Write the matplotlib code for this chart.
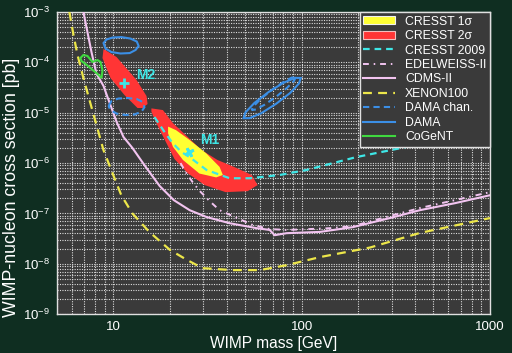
import numpy as np
import matplotlib
matplotlib.use('Agg')
import matplotlib.pyplot as plt
from matplotlib.lines import Line2D
from matplotlib.patches import Patch
from matplotlib.ticker import FuncFormatter, LogLocator, NullFormatter

plt.rcParams['font.family'] = ['Liberation Sans', 'DejaVu Sans']
plt.rcParams['mathtext.default'] = 'regular'

# WIMP mass [GeV] and cross section [pb]
x_ticks = [10, 100, 1000]
y_ticks = [1e-9, 1e-8, 1e-7, 1e-6, 1e-5, 1e-4, 1e-3]

# XENON100 limit
xenon_m = [5.83, 6.13, 6.44, 6.92, 7.45, 8.12, 8.85, 9.88, 11.0, 12.6, 15.5, 19.9,
           24.5, 29.7, 43.0, 59.8, 83.2, 125, 230, 424, 1000]
xenon_s = [1e-3, 3.5e-4, 1.4e-4, 4.9e-5, 1.8e-5, 5.7e-6, 1.8e-6, 6.3e-7, 2.3e-7, 1.0e-7,
           4.3e-8, 1.9e-8, 1.2e-8, 8.2e-9, 7.5e-9, 7.5e-9, 9.4e-9, 1.36e-8, 2.1e-8, 4.1e-8, 8.1e-8]

# CDMS-II limit
cdms_m = [6.92, 7.27, 7.64, 8.12, 8.42, 8.85, 9.29, 9.76, 10.4, 11.3, 12.6, 15.0, 17.6,
          20.9, 25.4, 31.2, 41.4, 57.6, 67.6, 71.8, 83.2, 125, 187, 294, 424, 652, 1000]
cdms_s = [1e-3, 4.0e-4, 1.6e-4, 5.9e-5, 4.7e-5, 3.4e-5, 2.05e-5, 1.24e-5, 6.5e-6, 3.3e-6,
          2.0e-6, 7.9e-7, 3.5e-7, 1.84e-7, 1.16e-7, 8.5e-8, 6.4e-8, 5.1e-8, 4.7e-8, 3.7e-8,
          4.06e-8, 4.3e-8, 5.35e-8, 8.1e-8, 1.16e-7, 1.6e-7, 2.3e-7]

# EDELWEISS-II limit
edw_m = [22.7, 24.2, 26.3, 28.7, 32.4, 36.6, 46.8, 54.9, 67.6, 83.2, 110, 141, 187,
         294, 424, 652, 1000]
edw_s = [1.0e-6, 6.6e-7, 4.2e-7, 2.8e-7, 1.76e-7, 1.16e-7, 7.7e-8, 5.9e-8, 4.9e-8,
         4.7e-8, 4.9e-8, 5.1e-8, 5.6e-8, 8.9e-8, 1.28e-7, 1.84e-7, 2.65e-7]

# CRESST 2009 limit
cresst09_m = [16.5, 18.7, 20.6, 23.0, 25.4, 31.2, 41.4, 52.9, 76.4, 106, 194, 357, 474, 783]
cresst09_s = [8.2e-6, 4.1e-6, 2.5e-6, 1.65e-6, 1.31e-6, 7.3e-7, 5.0e-7, 5.0e-7, 5.8e-7,
              7.3e-7, 1.31e-6, 2.08e-6, 2.86e-6, 4.95e-6]

# CRESST 2 sigma region, M1
m1_2s_m = [15.9, 18.3, 20.7, 24.8, 29.4, 35.7, 44.0, 54.2, 58.3, 51.6, 39.4, 30.5, 24.8,
           21.1, 19.1, 16.9, 15.9]
m1_2s_s = [1.22e-5, 1.13e-5, 6.2e-6, 3.28e-6, 1.81e-6, 1.15e-6, 8.3e-7, 5.8e-7, 3.66e-7,
           2.77e-7, 2.65e-7, 3.66e-7, 6.3e-7, 1.2e-6, 2.5e-6, 6.2e-6, 1.05e-5]

# CRESST 2 sigma region, M2
m2_2s_m = [8.85, 10.37, 13.26, 14.98, 15.17, 14.27, 13.42, 11.44, 9.64, 8.74]
m2_2s_s = [1.84e-4, 1.28e-4, 4.46e-5, 2.14e-5, 1.49e-5, 1.24e-5, 1.24e-5, 2.24e-5,
           4.89e-5, 1.22e-4]

# CRESST 1 sigma region, M1
m1_1s_m = [19.5, 21.5, 25.3, 31.1, 36.6, 38.1, 35.1, 28.6, 23.4, 20.7, 19.5]
m1_1s_s = [5.3e-6, 4.5e-6, 2.9e-6, 1.56e-6, 8.4e-7, 5.8e-7, 5.2e-7, 6.2e-7, 1.15e-6,
           2.1e-6, 3.9e-6]

# best fit points
best_m = [25.3, 11.4]
best_s = [1.68e-6, 3.9e-5]
best_names = ['M1', 'M2']
label_m = [32.4, 14.8]
label_s = [2.9e-6, 5.6e-5]

# DAMA (solid) regions
dama_lo_m = [8.85, 9.18, 9.88, 11.0, 12.3, 13.3, 13.6, 13.1, 12.2, 10.9, 9.76, 9.07]
dama_lo_s = [2.42e-4, 2.84e-4, 3.11e-4, 3.18e-4, 2.97e-4, 2.59e-4, 2.11e-4, 1.76e-4,
             1.53e-4, 1.50e-4, 1.60e-4, 1.88e-4]
dama_hi_m = [98.8, 96.6, 86.7, 73.2, 61.0, 52.8, 49.1, 50.2, 56.0, 66.3, 79.5, 92.0]
dama_hi_s = [4.9e-5, 3.8e-5, 2.46e-5, 1.51e-5, 9.8e-6, 7.8e-6, 7.8e-6, 1.01e-5, 1.56e-5,
             2.54e-5, 3.88e-5, 4.93e-5]

# DAMA with channeling (dashed) regions
chan_lo_m = [9.41, 9.76, 10.6, 11.9, 13.3, 14.3, 14.6, 14.1, 12.9, 11.6, 10.4, 9.64]
chan_lo_s = [1.36e-5, 1.71e-5, 1.91e-5, 1.96e-5, 1.87e-5, 1.63e-5, 1.29e-5, 1.05e-5,
             9.2e-6, 9.0e-6, 9.6e-6, 1.13e-5]
chan_hi_m = [92.9, 91.0, 83.3, 73.1, 63.6, 57.1, 54.2, 55.4, 60.4, 68.9, 79.1, 88.4]
chan_hi_s = [5.1e-5, 4.3e-5, 3.1e-5, 2.07e-5, 1.45e-5, 1.16e-5, 1.13e-5, 1.34e-5,
             1.87e-5, 2.78e-5, 3.97e-5, 4.98e-5]

# CoGeNT region
cogent_m = [6.67, 6.92, 7.27, 7.73, 8.22, 8.53, 8.74, 8.64, 8.22, 7.64, 7.10, 6.76]
cogent_s = [1.22e-4, 1.40e-4, 1.34e-4, 1.02e-4, 1.11e-4, 1.02e-4, 7.0e-5, 4.9e-5,
            5.9e-5, 7.4e-5, 9.3e-5, 1.06e-4]

c_yellow = '#ffff33'
c_red = '#ff3535'
c_cyan = '#3ee6e6'
c_pink = '#f2c4f0'
c_xenon = '#ece64a'
c_blue = '#3b8fe6'
c_green = '#3fd83f'

fig = plt.figure(figsize=(5.12, 3.53), dpi=100, facecolor='#0f2e21')
ax = fig.add_axes([0.111, 0.11, 0.846, 0.856])
ax.set_facecolor('#3a3a3a')
ax.set_xscale('log')
ax.set_yscale('log')
ax.set_xlim(5, 1000)
ax.set_ylim(1e-9, 1e-3)

ax.fill(m1_2s_m, m1_2s_s, color=c_red, lw=0, zorder=2)
ax.fill(m2_2s_m, m2_2s_s, color=c_red, lw=0, zorder=2)
ax.fill(m1_1s_m, m1_1s_s, color=c_yellow, lw=0, zorder=3)

ax.plot(cresst09_m, cresst09_s, color=c_cyan, lw=1.6, dashes=(3, 2.2), zorder=4)
ax.plot(edw_m, edw_s, color=c_pink, lw=1.4, dashes=(3, 2.5, 0.8, 2.5), zorder=4)
ax.plot(cdms_m, cdms_s, color=c_pink, lw=1.5, zorder=4)
ax.plot(xenon_m, xenon_s, color=c_xenon, lw=1.6, dashes=(4, 2.8), zorder=4)

ax.fill(dama_lo_m, dama_lo_s, fill=False, edgecolor=c_blue, lw=1.5, zorder=4)
ax.fill(dama_hi_m, dama_hi_s, fill=False, edgecolor=c_blue, lw=1.5, zorder=4)
ax.fill(chan_lo_m, chan_lo_s, fill=False, edgecolor=c_blue, lw=1.5, ls=(0, (3, 2)), zorder=4)
ax.fill(chan_hi_m, chan_hi_s, fill=False, edgecolor=c_blue, lw=1.5, ls=(0, (3, 2)), zorder=4)
ax.fill(cogent_m, cogent_s, fill=False, edgecolor=c_green, lw=1.5, zorder=4)

ax.plot(best_m[0], best_s[0], marker=(4, 2, 30), color=c_cyan, ms=7, mew=2, zorder=5)
ax.plot(best_m[1], best_s[1], marker='+', color=c_cyan, ms=7, mew=2, zorder=5)
for name, xm, ys in zip(best_names, label_m, label_s):
    ax.text(xm, ys, name, color=c_cyan, fontsize=10, fontweight='bold',
            ha='center', va='center', zorder=5)

# grid and axes
ax.set_xticks(x_ticks)
ax.set_yticks(y_ticks)
ax.xaxis.set_minor_locator(LogLocator(base=10, subs=np.arange(2, 10), numticks=50))
ax.yaxis.set_minor_locator(LogLocator(base=10, subs=np.arange(2, 10), numticks=50))
ax.xaxis.set_minor_formatter(NullFormatter())
ax.yaxis.set_minor_formatter(NullFormatter())
ax.xaxis.set_major_formatter(FuncFormatter(lambda v, p: '%g' % v))
ax.set_xlim(5, 1000)
ax.set_ylim(1e-9, 1e-3)
ax.set_axisbelow(True)
ax.grid(True, which='both', color='#dcdcdc', linestyle=(0, (1, 1.2)), linewidth=0.8)
ax.tick_params(which='both', length=0, colors='white', labelsize=9.5, pad=5)
for sp in ax.spines.values():
    sp.set_color('#e0e0e0')
    sp.set_linewidth(1)

ax.set_xlabel('WIMP mass [GeV]', color='white', fontsize=11.2, labelpad=2)
ax.set_ylabel('WIMP-nucleon cross section [pb]', color='white', fontsize=12.8)
ax.yaxis.set_label_coords(-0.084, 0.42)

handles = [
    Patch(facecolor=c_yellow, edgecolor='#f0f0f0', lw=0.8, label='CRESST 1σ'),
    Patch(facecolor=c_red, edgecolor='#f0c0c0', lw=0.8, label='CRESST 2σ'),
    Line2D([], [], color=c_cyan, lw=1.6, dashes=(3, 2.2), label='CRESST 2009'),
    Line2D([], [], color=c_pink, lw=1.4, dashes=(3, 2.5, 0.8, 2.5), label='EDELWEISS-II'),
    Line2D([], [], color=c_pink, lw=1.5, label='CDMS-II'),
    Line2D([], [], color=c_xenon, lw=1.6, dashes=(4, 2.8), label='XENON100'),
    Line2D([], [], color=c_blue, lw=1.5, dashes=(3, 2), label='DAMA chan.'),
    Line2D([], [], color=c_blue, lw=1.5, label='DAMA'),
    Line2D([], [], color=c_green, lw=1.5, label='CoGeNT'),
]
leg = ax.legend(handles=handles, loc='upper right', borderaxespad=0, fontsize=8.8,
                handlelength=2.6, handleheight=0.6, labelspacing=0.2, handletextpad=0.8,
                borderpad=0.3, fancybox=False, framealpha=1)
leg.get_frame().set_facecolor('#3a3a3a')
leg.get_frame().set_edgecolor('#e0e0e0')
leg.get_frame().set_linewidth(1)
leg.set_zorder(10)
for t in leg.get_texts():
    t.set_color('white')

fig.savefig('out.png', dpi=100, facecolor=fig.get_facecolor())
